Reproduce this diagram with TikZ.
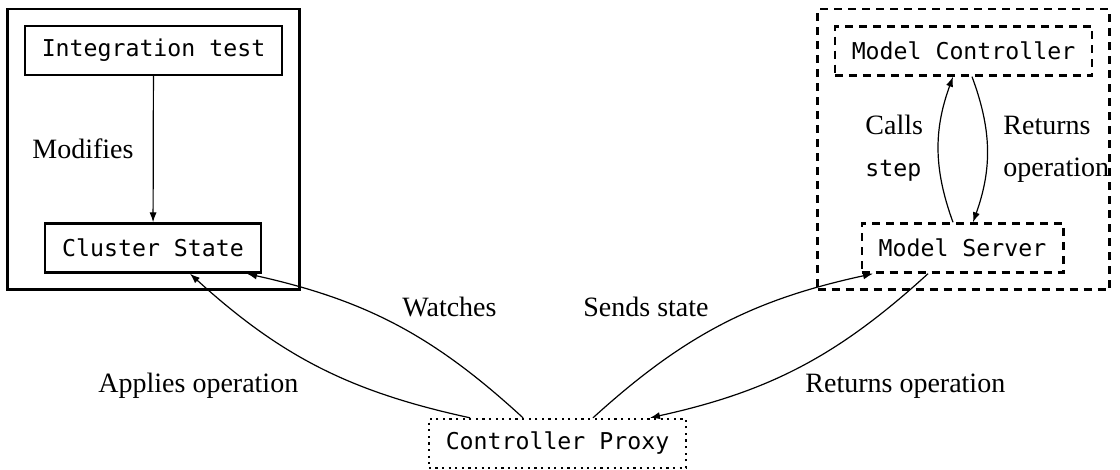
\documentclass[tikz,border=0pt]{standalone}
\usepackage{fontspec}
\setmainfont{Liberation Serif}
\setmonofont{DejaVu Sans Mono}
\usetikzlibrary{arrows,arrows.meta,fit,calc}
\tikzset{
    block/.style = {draw, rectangle, line width=1.2pt,
        minimum height=24.5pt,
        inner xsep=8.5pt,
        font=\fontsize{11.6}{14}\selectfont\ttfamily},
    dblock/.style = {block, dash pattern=on 4pt off 3pt},
    pblock/.style = {block, dash pattern=on 1.1pt off 2.2pt},
    group/.style = {draw, rectangle, line width=1.2pt, inner sep=8pt},
    arrow/.style = {draw, -{Latex[length=5pt,width=3.6pt]}, line width=.6pt},
    lbl/.style = {anchor=base west, inner sep=0pt, font=\fontsize{14}{17}\selectfont}
}
\begin{document}
\begin{tikzpicture}[x=.5pt,y=-.5pt]
    \useasboundingbox (0,0) rectangle (1120,470);
    % left side
    \node[block] (test) at (153.5,50.5) {Integration test};
    \node[block] (cluster) at (153,248) {Cluster State};
    \node[group, fit=(test) (cluster)] (left) {};
    % right side
    \node[dblock] (ctrl) at (963.5,51) {Model Controller};
    \node[dblock] (server) at (962.5,248) {Model Server};
    \node[group, dash pattern=on 4pt off 3pt, fit=(ctrl) (server)] (right) {};
    \node[pblock] (proxy) at (557.5,443.5) {Controller Proxy};
    % arrows
    \draw[arrow] (test) -- (cluster);
    \draw[arrow] ([xshift=-4.75pt]server.north) to[bend left=20] ([xshift=-5.25pt]ctrl.south);
    \draw[arrow] ([xshift=4.25pt]ctrl.south) to[bend left=20] ([xshift=5.25pt]server.north);
    \draw[arrow] ([xshift=-43.75pt]proxy.north) to[bend left=15] ([xshift=18.5pt]cluster.south);
    \draw[arrow] ([xshift=-17.25pt]proxy.north) to[bend right=15] ([xshift=47pt]cluster.south);
    \draw[arrow] ([xshift=17.75pt]proxy.north) to[bend left=15] ([xshift=-44.75pt]server.south);
    \draw[arrow] ([xshift=-17.25pt]server.south) to[bend left=15] ([xshift=46.25pt]proxy.north);
    % labels
    \node[lbl] (modifies) at (32,159) {Modifies};
    \node[lbl] (calls) at (865,135) {Calls};
    \node[lbl, font=\fontsize{11.6}{14}\selectfont\ttfamily] (step) at (865,177) {step};
    \node[lbl] (returns) at (1003,135) {Returns};
    \node[lbl] (operation) at (1003,177) {operation};
    \node[lbl] (watches) at (402,317) {Watches};
    \node[lbl] (sends) at (583,317) {Sends state};
    \node[lbl] (applies) at (98,393) {Applies operation};
    \node[lbl] (returnsop) at (805,393) {Returns operation};
\end{tikzpicture}
\end{document}
